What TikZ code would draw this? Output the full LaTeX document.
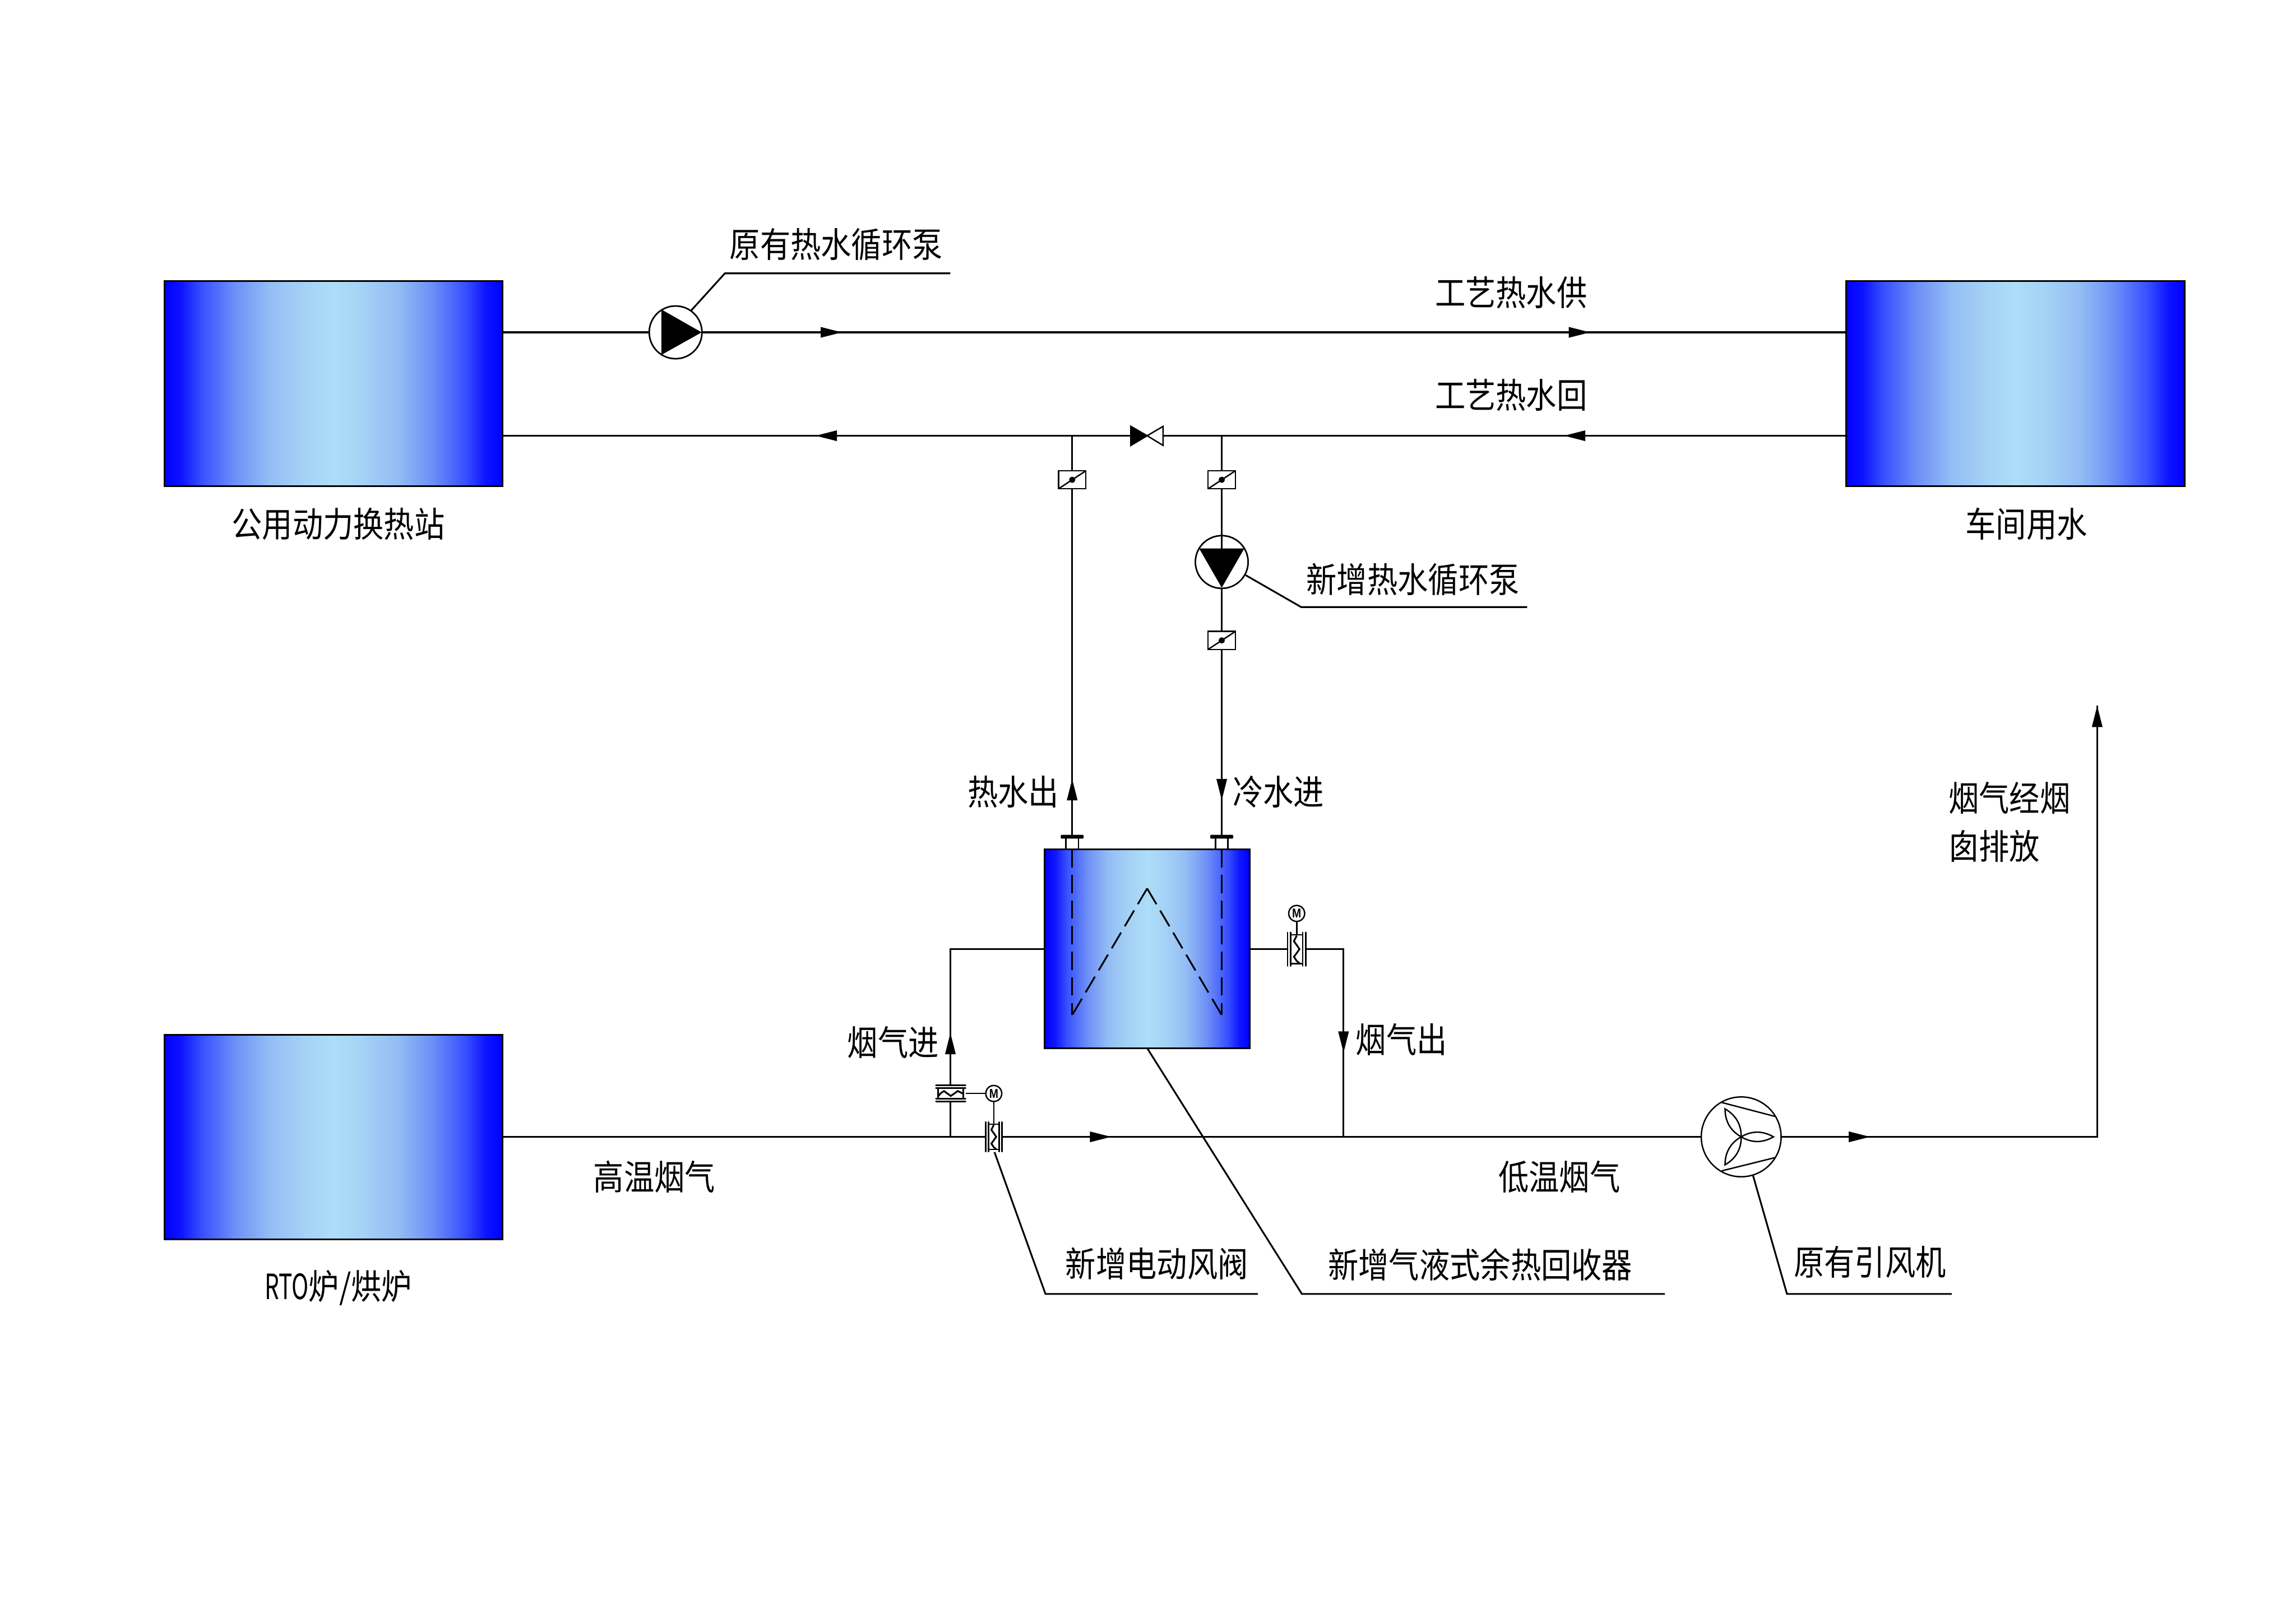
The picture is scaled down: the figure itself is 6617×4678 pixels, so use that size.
\documentclass[tikz,border=0pt]{standalone}
\usepackage{fontspec}
\usetikzlibrary{arrows.meta,calc}
\newfontfamily\cjkfont[FakeStretch=0.875]{Noto Sans CJK SC}
\newfontfamily\narrowlatin[FakeStretch=0.655]{Noto Sans CJK SC}
\newfontfamily\motorfont[FakeStretch=0.85]{Liberation Sans}
\definecolor{lightcore}{HTML}{ADDDF8}
\definecolor{stopA}{RGB}{14,20,255}
\definecolor{stopB}{RGB}{56,80,255}
\definecolor{stopC}{RGB}{110,144,246}
\definecolor{stopD}{RGB}{147,189,244}
\definecolor{stopE}{RGB}{166,211,246}
\pgfdeclarehorizontalshading{tankfill}{100bp}{
  color(0bp)=(blue);
  color(25bp)=(blue);
  color(27.5bp)=(stopA);
  color(30.5bp)=(stopB);
  color(35.5bp)=(stopC);
  color(40.5bp)=(stopD);
  color(46bp)=(stopE);
  color(50bp)=(lightcore);
  color(54bp)=(stopE);
  color(59.5bp)=(stopD);
  color(64.5bp)=(stopC);
  color(69.5bp)=(stopB);
  color(72.5bp)=(stopA);
  color(75bp)=(blue);
  color(100bp)=(blue)}
\tikzset{
  pipe/.style={line width=5*0.2845pt,draw=black},
  sym/.style={line width=4*0.2845pt,draw=black},
  flow/.style={pipe,-{Triangle[length=17.6pt,width=8.4pt]}},
  tank/.style={rectangle,draw=black,line width=5*0.2845pt,inner sep=0,outer sep=0,
    shading=tankfill,
    minimum width=9.74cm,minimum height=5.9cm},
  heater/.style={tank,minimum width=5.92cm,minimum height=5.73cm},
  pumpbody/.style={circle,draw=black,fill=white,line width=4*0.2845pt,inner sep=0,outer sep=0,minimum size=1.52cm},
  fanbody/.style={pumpbody,minimum size=2.3cm},
  motor/.style={circle,draw=black,fill=white,line width=4*0.2845pt,inner sep=0,outer sep=0,minimum size=0.46cm,
    font=\motorfont\bfseries\fontsize{10.5}{11}\selectfont},
  butterfly/.style={rectangle,draw=black,fill=white,line width=4*0.2845pt,inner sep=0,outer sep=0,
    minimum width=0.79cm,minimum height=0.52cm},
  coil/.style={pipe,dash pattern=on 15pt off 6pt},
  lbl/.style={font=\cjkfont\fontsize{28.5}{39.8}\selectfont,inner sep=0,text=black},
  damper/.pic={
    \fill[white] (-26.5,-48.5) rectangle (26.5,48.5);
    \draw[sym,line cap=round] (-26.5,-48.5) -- (-26.5,48.5);
    \draw[sym,line cap=round] (26.5,-48.5) -- (26.5,48.5);
    \draw[sym,line cap=round] (-17.5,-48.5) -- (-17.5,48.5);
    \draw[sym,line cap=round] (17.5,-48.5) -- (17.5,48.5);
    \draw[sym] (-17.5,-41.5) -- (17.5,-41.5);
    \draw[sym] (-17.5,41.5) -- (17.5,41.5);
    \draw[sym,line width=5*0.2845pt,line join=miter]
      (0,-39) -- (-8,-23) -- (2,-9) -- (8,0) -- (-2,14) -- (-8,22) -- (0,34) -- (8,40);
  }
}
\begin{document}
\begin{tikzpicture}[x=0.01cm,y=-0.01cm]
\useasboundingbox (0,0) rectangle (6617,4678);

% vessels
\node[tank] (station) at (961,1106) {};
\node[tank] (workshop) at (5808.5,1106) {};
\node[tank] (furnace) at (961,3278) {};
\node[heater] (recovery) at (3306,2734.5) {};

% rotating machines
\node[pumpbody] (pumpA) at (1947,958) {};
\node[pumpbody] (pumpB) at (3521,1620) {};
\node[fanbody] (fan) at (5018,3277) {};

% check valves
\node[butterfly] (chkA) at (3090,1383) {};
\node[butterfly] (chkB) at (3521,1383) {};
\node[butterfly] (chkC) at (3521,1846) {};

% named points
\coordinate (gate) at (3306,1256);
\coordinate (gateL) at (3259,1256);
\coordinate (gateR) at (3352,1256);
\coordinate (joinHot) at (3090,1256);
\coordinate (joinCold) at (3521,1256);
\coordinate (flangeHot) at (3090,2412);
\coordinate (flangeCold) at (3521,2412);
\coordinate (teeIn) at (2739,3277);
\coordinate (teeOut) at (3872,3277);
\coordinate (bendIn) at (2739,2736);
\coordinate (bendOut) at (3872,2736);
\coordinate (damperIn) at (2740,3152);
\coordinate (damperMain) at (2864,3277);
\coordinate (damperOut) at (3737,2736);
\coordinate (stackTop) at (6044,2034);
\coordinate (stackBend) at (6044,3277);

% water circuit
\draw[pipe] (station.east |- pumpA) -- (pumpA.west);
\draw[pipe] (pumpA.east) -- (workshop.west |- pumpA);
\draw[pipe] (workshop.west |- gate) -- (gateR);
\draw[pipe] (gateL) -- (station.east |- gate);
\draw[pipe] (joinHot) -- (chkA.north);
\draw[pipe] (chkA.south) -- (flangeHot);
\draw[pipe] (joinCold) -- (chkB.north);
\draw[pipe] (chkB.south) -- (pumpB.north);
\draw[pipe] (pumpB.south) -- (chkC.north);
\draw[pipe] (chkC.south) -- (flangeCold);

% flue gas circuit
\draw[pipe] (furnace.east |- teeIn) -- (fan.west);
\draw[pipe] (fan.east) -- (stackBend) -- (stackTop);
\draw[pipe,line join=miter] (teeIn) -- (bendIn) -- (recovery.west |- bendIn);
\draw[pipe,line join=miter] (recovery.east |- bendOut) -- (bendOut) -- (teeOut);

% flow arrows
\draw[flow] (2340,958) -- (2427,958);
\draw[flow] (4507,958) -- (4583,958);
\draw[flow] (2427,1256) -- (2350,1256);
\draw[flow] (4583,1256) -- (4507,1256);
\draw[flow] (3090,2320) -- (3090,2245);
\draw[flow] (3521,2230) -- (3521,2307);
\draw[flow] (2739,3050) -- (2739,2977);
\draw[flow] (3872,2960) -- (3872,3035);
\draw[flow] (3125,3277) -- (3203,3277);
\draw[flow] (5305,3277) -- (5390,3277);
\draw[flow] (6044,2120) -- (stackTop);

% pump and valve symbols
\fill[black] (1906,892) -- (2022,958) -- (1906,1023) -- cycle;
\draw[sym] (pumpA.center) circle[radius=76];
\draw[pipe] (pumpB.north) -- (3521,1581);
\fill[black] (3456,1581) -- (3586,1581) -- (3521,1694) -- cycle;
\draw[sym] (pumpB.center) circle[radius=76];
\filldraw[sym,fill=black,line join=miter] (gateL |- 0,1229) -- (gate) -- (gateL |- 0,1284) -- cycle;
\filldraw[sym,fill=white,line join=miter] (gateR |- 0,1229) -- (gate) -- (gateR |- 0,1284) -- cycle;
\foreach \v in {chkA,chkB,chkC}{
  \draw[sym] (\v.south west) -- (\v.north east);
  \fill[black] (\v.center) circle[radius=9];
}

% recovery unit internals
\foreach \f in {flangeHot,flangeCold}{
  \draw[sym] ([xshift=-0.18cm]\f) -- ([xshift=-0.18cm]\f |- recovery.north);
  \draw[sym] ([xshift=0.18cm]\f) -- ([xshift=0.18cm]\f |- recovery.north);
  \fill[black,rounded corners=0.6pt] ([xshift=-0.33cm,yshift=-0.055cm]\f) rectangle ([xshift=0.33cm,yshift=0.055cm]\f);
}
\coordinate (coilApex) at (3306,2561);
\coordinate (coilHot) at (3090,2926);
\coordinate (coilCold) at (3521,2926);
\draw[coil] (joinHot |- recovery.north) -- (coilHot);
\draw[coil] (joinCold |- recovery.north) -- (coilCold);
\draw[coil] (coilApex) -- (coilHot);
\draw[coil] (coilApex) -- (coilCold);

% motorised dampers
\pic[rotate=-90,scale=0.88] at (damperIn) {damper};
\pic[scale=0.88] at (damperMain) {damper};
\pic at (damperOut) {damper};
\node[motor] (motorA) at (2864,3152) {M};
\node[motor] (motorB) at (3737,2633) {M};
\draw[sym] (motorA.west) -- (2783,3152);
\draw[sym] (motorA.south) -- (2864,3240);
\draw[sym] (motorB.south) -- (3737,2697);

% fan internals
\draw[sym] (4962,3178) -- (5115,3218);
\draw[sym] (4962,3375) -- (5115,3337);
\foreach \a in {0,120,240}{
  \begin{scope}[shift={(fan.center)},rotate=\a]
    \draw[sym,line join=miter] (0,0) .. controls (30,-18) and (62,-18) .. (93,0) .. controls (62,18) and (30,18) .. (0,0);
  \end{scope}
}

% leaders
\draw[pipe] (1992,895) -- (2089,788) -- (2739,788);
\draw[pipe] (3590,1658) -- (3750,1750) -- (4401,1750);
\draw[pipe] (2866,3321) -- (3013,3730) -- (3625,3730);
\draw[pipe] (recovery.south) -- (3752,3730) -- (4798,3730);
\draw[pipe] (5052,3388) -- (5150,3730) -- (5625,3730);

% labels
\node[lbl] (tPumpA) at (2410,705) {原有热水循环泵};
\node[lbl] (tSupply) at (4355,844) {工艺热水供};
\node[lbl] (tReturn) at (4355,1139) {工艺热水回};
\node[lbl] (tStation) at (975,1511) {公用动力换热站};
\node[lbl] (tWorkshop) at (5840,1511) {车间用水};
\node[lbl] (tPumpB) at (4072,1671) {新增热水循环泵};
\node[lbl] (tHot) at (2920,2283) {热水出};
\node[lbl] (tCold) at (3684,2283) {冷水进};
\node[lbl,align=left,anchor=west] (tStack) at (5615,2370) {烟气经烟\\囱排放};
\node[lbl] (tGasIn) at (2574,3005) {烟气进};
\node[lbl] (tGasOut) at (4039,2996) {烟气出};
\node[lbl] (tHigh) at (1886,3393) {高温烟气};
\node[lbl] (tLow) at (4494,3393) {低温烟气};
\node[lbl] (tDamper) at (3334,3642) {新增电动风阀};
\node[lbl] (tRecovery) at (4266,3646) {新增气液式余热回收器};
\node[lbl] (tFan) at (5389,3638) {原有引风机};
\node[lbl] (tFurnace) at (975,3712) {{\narrowlatin RTO}炉/烘炉};
\end{tikzpicture}
\end{document}
